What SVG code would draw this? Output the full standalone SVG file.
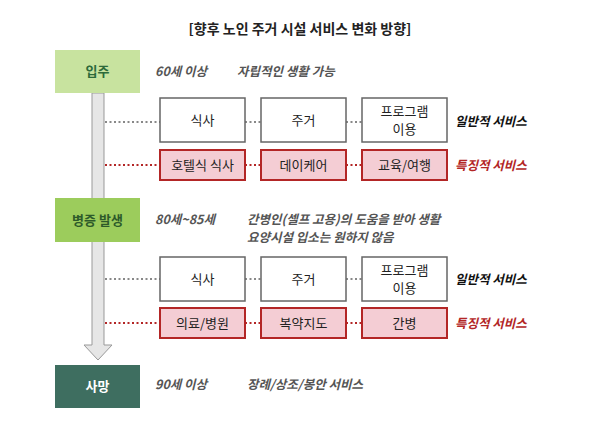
<svg xmlns="http://www.w3.org/2000/svg" width="600" height="422" viewBox="0 0 600 422">
<style>
text{font-family:"Noto Sans CJK KR","Noto Sans",sans-serif}
.t{font-size:13px;fill:#222;text-anchor:middle}
.it{font-size:12.5px;fill:#555;font-style:italic;font-weight:bold}
.w{fill:#fff;stroke:#666;stroke-width:1.5}
.r{fill:#f4cdd4;stroke:#b32626;stroke-width:2}
.dg{stroke:#888;stroke-width:2;stroke-dasharray:2 2.5}
.dr{stroke:#b32626;stroke-width:2;stroke-dasharray:2 2.5}
.lg{font-size:12.5px;font-weight:bold;font-style:italic;fill:#111}
.lr{font-size:12.5px;font-weight:bold;font-style:italic;fill:#b32626}
</style>
<rect width="600" height="422" fill="#fff"/>
<text x="300" y="34" text-anchor="middle" font-size="14" font-weight="bold" fill="#222">[향후 노인 주거 시설 서비스 변화 방향]</text>
<g id="arrow"><path d="M92,93 H104 V345 H112 L98,360 L84,345 H92 Z" fill="#e6e6e6" stroke="#999" stroke-width="1"/></g>
<g id="connectors">
<line class="dg" x1="105" y1="122" x2="160" y2="122"/><line class="dg" x1="245" y1="122" x2="261" y2="122"/><line class="dg" x1="346" y1="122" x2="362" y2="122"/>
<line class="dr" x1="105" y1="165" x2="160" y2="165"/><line class="dr" x1="245" y1="165" x2="261" y2="165"/><line class="dr" x1="346" y1="165" x2="362" y2="165"/>
<line class="dg" x1="105" y1="279" x2="160" y2="279"/><line class="dg" x1="245" y1="279" x2="261" y2="279"/><line class="dg" x1="346" y1="279" x2="362" y2="279"/>
<line class="dr" x1="105" y1="323" x2="160" y2="323"/><line class="dr" x1="245" y1="323" x2="261" y2="323"/><line class="dr" x1="346" y1="323" x2="362" y2="323"/>
</g>
<g id="stage1"><rect x="55" y="50" width="85" height="43" fill="#c8e39f"/><text x="97.5" y="76" text-anchor="middle" font-size="13" font-weight="bold" fill="#2d6a3a">입주</text></g>
<g id="stage2"><rect x="55" y="198" width="85" height="44" fill="#9ccc5c"/><text x="97.5" y="225" text-anchor="middle" font-size="13" font-weight="bold" fill="#2d5a2a">병증 발생</text></g>
<g id="stage3"><rect x="55" y="365" width="85" height="43" fill="#3e6e60"/><text x="97.5" y="391" text-anchor="middle" font-size="13" font-weight="bold" fill="#fff">사망</text></g>
<g id="desc">
<text class="it" x="155" y="76">60세 이상</text><text class="it" x="237" y="76">자립적인 생활 가능</text>
<text class="it" x="155" y="224">80세~85세</text><text class="it" x="247" y="224">간병인(셀프 고용)의 도움을 받아 생활</text><text class="it" x="247" y="242">요양시설 입소는 원하지 않음</text>
<text class="it" x="155" y="389">90세 이상</text><text class="it" x="247" y="389">장례/상조/봉안 서비스</text>
</g>
<g id="r1a"><rect class="w" x="160" y="98" width="85" height="44"/><text class="t" x="202.5" y="125">식사</text></g>
<g id="r1b"><rect class="w" x="261" y="98" width="85" height="44"/><text class="t" x="303.5" y="125">주거</text></g>
<g id="r1c"><rect class="w" x="362" y="98" width="85" height="44"/><text class="t" x="404.5" y="116">프로그램</text><text class="t" x="404.5" y="134">이용</text></g>
<text class="lg" x="455" y="126">일반적 서비스</text>
<g id="r2a"><rect class="r" x="160" y="150" width="85" height="30"/><text class="t" x="202.5" y="170">호텔식 식사</text></g>
<g id="r2b"><rect class="r" x="261" y="150" width="85" height="30"/><text class="t" x="303.5" y="170">데이케어</text></g>
<g id="r2c"><rect class="r" x="362" y="150" width="85" height="30"/><text class="t" x="404.5" y="170">교육/여행</text></g>
<text class="lr" x="455" y="170">특징적 서비스</text>
<g id="r3a"><rect class="w" x="160" y="257" width="85" height="44"/><text class="t" x="202.5" y="284">식사</text></g>
<g id="r3b"><rect class="w" x="261" y="257" width="85" height="44"/><text class="t" x="303.5" y="284">주거</text></g>
<g id="r3c"><rect class="w" x="362" y="257" width="85" height="44"/><text class="t" x="404.5" y="275">프로그램</text><text class="t" x="404.5" y="293">이용</text></g>
<text class="lg" x="455" y="284">일반적 서비스</text>
<g id="r4a"><rect class="r" x="160" y="308" width="85" height="30"/><text class="t" x="202.5" y="328">의료/병원</text></g>
<g id="r4b"><rect class="r" x="261" y="308" width="85" height="30"/><text class="t" x="303.5" y="328">복약지도</text></g>
<g id="r4c"><rect class="r" x="362" y="308" width="85" height="30"/><text class="t" x="404.5" y="328">간병</text></g>
<text class="lr" x="455" y="328">특징적 서비스</text>
</svg>
